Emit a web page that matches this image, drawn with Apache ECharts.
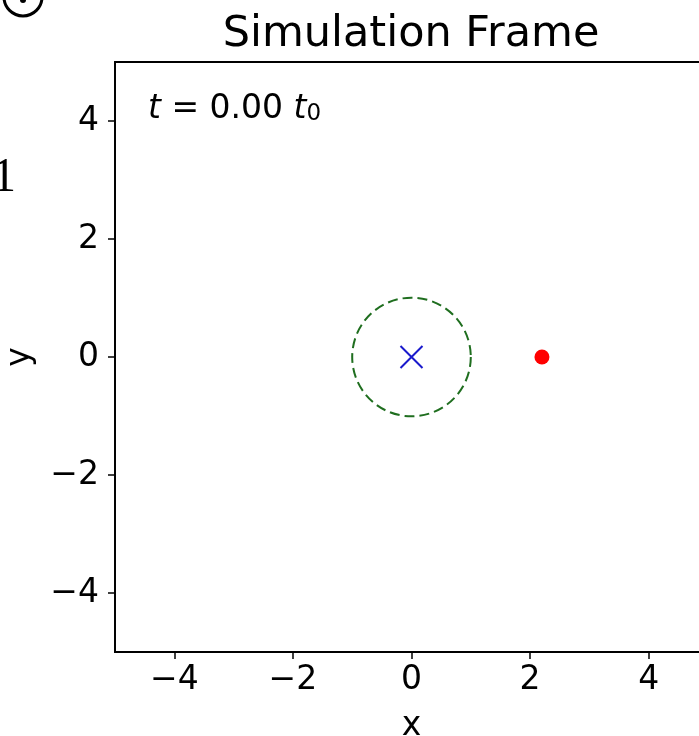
<!DOCTYPE html>
<html><head><meta charset="utf-8">
<script src="https://cdn.jsdelivr.net/npm/echarts@6/dist/echarts.min.js"></script>
<style>html,body{margin:0;padding:0;background:#fff}#c{width:699px;height:736px}</style>
</head><body><div id="c"></div>
<script>
// ---- data ----
const xTicks = [-4, -2, 0, 2, 4];
const yTicks = [-4, -2, 0, 2, 4];
const xRange = [-5, 5];
const yRange = [-5, 5];
const particle = [[2.2, 0]];
const centerMark = [[0, 0]];
const boundaryCenter = [[0, 0]];
const boundaryRadius = 1;
const timeValue = '0.00';
const titleText = 'Simulation Frame';

const FF = 'DejaVu Sans';
const fmt = v => String(v).replace('-', '\u2212');
const chart = echarts.init(document.getElementById('c'), null, {renderer: 'canvas'});

const axisCommon = {
  type: 'value',
  splitLine: {show: false},
  axisLine: {show: true, onZero: false, lineStyle: {color: '#000', width: 1.8}},
  axisTick: {show: true, length: 7, lineStyle: {color: '#000', width: 1.5}},
  nameTextStyle: {fontFamily: FF, fontSize: 33, color: '#000'},
};

const option = {
  animation: false,
  backgroundColor: '#fff',
  title: {
    text: titleText, left: 411, textAlign: 'center', top: 13, padding: 0,
    textStyle: {fontFamily: FF, fontSize: 43, fontWeight: 'normal', color: '#000'}
  },
  grid: {left: 115, top: 62, width: 593, height: 590, show: true, borderColor: '#000', borderWidth: 1.8,
         containLabel: false, outerBoundsMode: 'none'},
  xAxis: Object.assign({}, axisCommon, {
    min: xRange[0], max: xRange[1],
    name: 'x', nameLocation: 'middle', nameGap: 58,
    axisTick: Object.assign({}, axisCommon.axisTick, {customValues: xTicks}),
    axisLabel: {customValues: xTicks, formatter: fmt, fontFamily: FF, fontSize: 33, color: '#000', margin: 12}
  }),
  yAxis: Object.assign({}, axisCommon, {
    min: yRange[0], max: yRange[1],
    name: 'y', nameLocation: 'middle', nameGap: 78, nameRotate: 90,
    axisTick: Object.assign({}, axisCommon.axisTick, {customValues: yTicks}),
    axisLabel: {customValues: yTicks, formatter: fmt, fontFamily: FF, fontSize: 33, color: '#000', margin: 16}
  }),
  series: [
    {type: 'scatter', data: boundaryCenter, symbol: 'circle', symbolSize: 119, silent: true,
     itemStyle: {color: 'rgba(0,0,0,0)', borderColor: '#1f6e1f', borderWidth: 2, borderType: [10, 5], opacity: 1}},
    {type: 'scatter', data: centerMark, symbol: 'path://M0,0L10,10M10,0L0,10', symbolSize: 22, silent: true,
     itemStyle: {color: 'none', borderColor: '#1a1acc', borderWidth: 2, opacity: 1}},
    {type: 'scatter', data: particle, symbol: 'circle', symbolSize: 15, silent: true,
     itemStyle: {color: '#ff0000', opacity: 1}}
  ],
  graphic: [
    {type: 'text', x: 148, y: 106, style: {
      text: '{i|t}{n| = ' + timeValue + ' }{i|t}{s|0}',
      verticalAlign: 'middle',
      rich: {
        i: {fontFamily: FF, fontStyle: 'italic', fontSize: 33, lineHeight: 40, verticalAlign: 'bottom', fill: '#000'},
        n: {fontFamily: FF, fontSize: 33, lineHeight: 40, verticalAlign: 'bottom', fill: '#000'},
        s: {fontFamily: FF, fontSize: 23, lineHeight: 23, verticalAlign: 'bottom', fill: '#000'}
      }
    }},
    {type: 'circle', shape: {cx: 23, cy: -3, r: 19}, style: {fill: 'none', stroke: '#000', lineWidth: 3}},
    {type: 'circle', shape: {cx: 23, cy: 0, r: 3}, style: {fill: '#000'}},
    {type: 'text', x: 16, y: 202, style: {text: '1', fontFamily: 'Liberation Serif', fontSize: 48, align: 'right', verticalAlign: 'bottom', fill: '#000'}}
  ]
};
chart.setOption(option);
const p0 = chart.convertToPixel({seriesIndex: 0}, boundaryCenter[0]);
const p1 = chart.convertToPixel({seriesIndex: 0}, [boundaryCenter[0][0] + boundaryRadius, boundaryCenter[0][1]]);
chart.setOption({series: [{symbolSize: 2 * Math.abs(p1[0] - p0[0])}, {}, {}]});
</script></body></html>
